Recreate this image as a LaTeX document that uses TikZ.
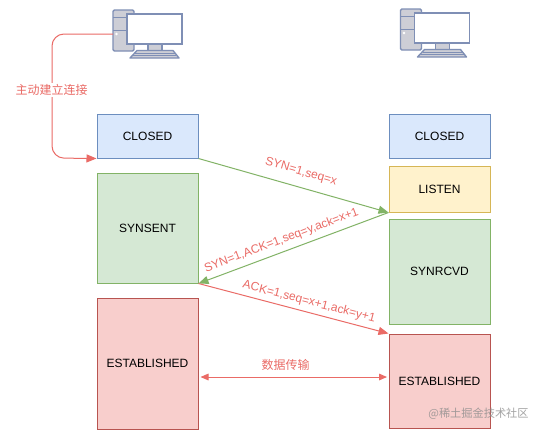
\documentclass[tikz,border=0pt]{standalone}
\usepackage{fontspec}
\setmainfont{Liberation Sans}
\newfontfamily\cjk{Noto Sans CJK SC}
\usetikzlibrary{arrows.meta}
\definecolor{blueF}{HTML}{DAE8FC}\definecolor{blueD}{HTML}{6C8EBF}
\definecolor{yelF}{HTML}{FFF2CC}\definecolor{yelD}{HTML}{D6B656}
\definecolor{grnF}{HTML}{D5E8D4}\definecolor{grnD}{HTML}{82B366}
\definecolor{redF}{HTML}{F8CECC}\definecolor{redD}{HTML}{B85450}
\definecolor{lab}{HTML}{EA6B66}
\definecolor{pcD}{HTML}{7F8FB5}\definecolor{pcF}{HTML}{CDCED6}
\tikzset{
  x=0.75pt,y=-0.75pt,
  state/.style={draw=#1D,fill=#1F,line width=0.75pt,minimum width=75.75pt,inner sep=0pt,font=\fontsize{9}{11}\selectfont,text=black},
  lbl/.style={text=lab,inner sep=0pt,font=\fontsize{9}{11}\selectfont},
  tipg/.style={-{Triangle[length=7.5pt,width=6pt,fill=grnD]},draw=grnD,line width=0.75pt},
  tipr/.style={-{Triangle[length=7.5pt,width=6pt,fill=lab]},draw=lab,line width=0.75pt},
  pcpart/.style={draw=pcD,fill=pcF,line width=1pt,line join=round},
  pcscreen/.style={draw=pcD,fill=white,line width=1pt},
  pcline/.style={draw=pcD,line width=0.75pt},
  pics/computer/.style={code={
    \draw[pcpart,rounded corners=1pt] (0,0) rectangle (21,41);
    \draw[pcline] (0,7) -- (21,7) (0,20) -- (21,20);
    \fill[white] (3.5,24) circle (1.4);
    \draw[pcpart] (35,34) rectangle (49,41);
    \draw[pcpart] (17,48) -- (24,40.5) -- (60,40.5) -- (66,48) -- cycle;
    \draw[pcline,line width=0.5pt] (22,43) -- (62,43) (20,45.5) -- (63,45.5);
    \draw[pcscreen] (14,4) rectangle (69,34);
  }}
}
\begin{document}
\begin{tikzpicture}
\useasboundingbox (0,0) rectangle (542,433);
\fill[white] (0,0) rectangle (542,433);
\path (113,10) pic {computer};
\path (400.5,9) pic {computer};
\coordinate (pcout) at (113,34);
\node[state=blue,minimum height=33pt] (closedL) at (147.5,136) {CLOSED};
\node[state=grn,minimum height=82.5pt] (synsent) at (147.5,228) {SYNSENT};
\node[state=red,minimum height=98.25pt] (estL) at (147.5,363.5) {ESTABLISHED};
\node[state=blue,minimum height=33pt] (closedR) at (439.5,136) {CLOSED};
\node[state=yel,minimum height=34.5pt] (listen) at (439.5,189) {LISTEN};
\node[state=grn,minimum height=78.75pt] (synrcvd) at (439.5,271.5) {SYNRCVD};
\node[state=red,minimum height=70.5pt] (estR) at (439.5,381) {ESTABLISHED};
\draw[tipr,rounded corners=9pt] (pcout) -- (52,34) -- (52,158) -- (closedL.south west);
\node[lbl,fill=white,inner ysep=1pt,font=\cjk\fontsize{9}{11}\selectfont] (lb0) at (51.5,90) {主动建立连接};
\draw[tipg] (closedL.south east) -- (listen.south west);
\draw[tipg] (listen.south west) -- (synsent.south east);
\draw[tipr] (synsent.south east) -- (estR.north west);
\coordinate (dL) at (200.5,377);
\coordinate (dR) at (387,377);
\draw[{Triangle[length=6pt,width=5pt,fill=lab]}-{Triangle[length=6pt,width=5pt,fill=lab]},draw=lab,line width=0.75pt] (dL) -- (dR);
\node[lbl,rotate=-16.5] (l1) at (301,172) {SYN=1,seq=x};
\node[lbl,rotate=20.5] (l2) at (281.5,240.5) {SYN=1,ACK=1,seq=y,ack=x+1};
\node[lbl,rotate=-14.5] (l3) at (309,302) {ACK=1,seq=x+1,ack=y+1};
\node[lbl,font=\cjk\fontsize{9}{11}\selectfont] (l4) at (285.5,365) {数据传输};
\node[inner sep=0pt,text=black!45,opacity=0.8,font=\cjk\fontsize{8.4}{10}\selectfont] (wm) at (478.5,413.5) {@稀土掘金技术社区};
\end{tikzpicture}
\end{document}
